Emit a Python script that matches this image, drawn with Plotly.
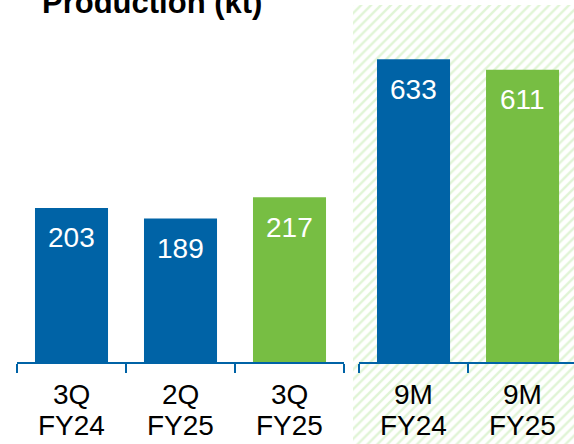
import plotly.graph_objects as go

# ---- data ----
left_categories = ["3Q<br>FY24", "2Q<br>FY25", "3Q<br>FY25"]
left_values = [203, 189, 217]
right_categories = ["9M<br>FY24", "9M<br>FY25"]
right_values = [633, 611]
title_text = "Production (kt)"

# ---- style ----
BLUE = "#0063a6"
GREEN = "#77be43"
HATCH = "#c2eaad"
left_colors = [BLUE, BLUE, GREEN]
right_colors = [BLUE, GREEN]
W, H = 574, 444
FONT = "Liberation Sans, Arial, sans-serif"
LABEL_ROWS_PX = [394, 425]   # vertical centres of the two category-label lines

fig = go.Figure()

# hatched highlight panel behind the 9M comparison (decoration)
hx0 = 353 / W
hy1 = 1 - 5 / H
fig.add_trace(go.Scatter(
    x=[hx0, 1, 1, hx0, hx0], y=[0, 0, hy1, hy1, 0],
    mode="none", fill="toself", fillcolor="white",
    fillpattern=dict(shape="/", fgcolor=HATCH, bgcolor="white", size=7, solidity=0.35),
    xaxis="x", yaxis="y", hoverinfo="skip", showlegend=False,
))

fig.add_trace(go.Bar(
    x=left_categories, y=left_values, marker=dict(color=left_colors, line=dict(width=0)),
    width=0.67, xaxis="x2", yaxis="y2", showlegend=False,
))
fig.add_trace(go.Bar(
    x=right_categories, y=right_values, marker=dict(color=right_colors, line=dict(width=0)),
    width=0.67, xaxis="x3", yaxis="y3", showlegend=False,
))

annotations = []
for cats, vals, ax in [(left_categories, left_values, "2"), (right_categories, right_values, "3")]:
    for c, v in zip(cats, vals):
        # value label inside the bar
        annotations.append(dict(
            x=c, y=v, xref="x" + ax, yref="y" + ax, text=str(v), showarrow=False,
            yanchor="middle", xanchor="center", yshift=-30,
            font=dict(family=FONT, size=28, color="white"),
        ))
        # category label, one line per row (tighter line spacing than tick labels)
        for line, ypx in zip(c.split("<br>"), LABEL_ROWS_PX):
            annotations.append(dict(
                x=c, y=1 - ypx / H, xref="x" + ax, yref="paper", text=line,
                showarrow=False, yanchor="middle", xanchor="center",
                font=dict(family=FONT, size=28, color="black"),
            ))
annotations.append(dict(
    x=40 / W, y=1, xref="paper", yref="paper", text="<b>" + title_text + "</b>",
    showarrow=False, xanchor="left", yanchor="middle", yshift=-2,
    font=dict(family=FONT, size=31, color="black"),
))

axis_common = dict(
    type="category", showline=True, linecolor=BLUE, linewidth=2,
    ticks="outside", tickson="boundaries", ticklen=9, tickwidth=2, tickcolor=BLUE,
    showgrid=False, zeroline=False, fixedrange=True, showticklabels=False,
)
ybot = 82 / H

fig.update_layout(
    width=W, height=H, margin=dict(l=0, r=0, t=0, b=0),
    paper_bgcolor="white", plot_bgcolor="rgba(0,0,0,0)",
    xaxis=dict(domain=[0, 1], range=[0, 1], visible=False, fixedrange=True),
    yaxis=dict(domain=[0, 1], range=[0, 1], visible=False, fixedrange=True),
    xaxis2=dict(domain=[17 / W, 344 / W], anchor="y2", range=[-0.5, 2.5], **axis_common),
    yaxis2=dict(domain=[ybot, 1], anchor="x2", range=[0, 477], visible=False, fixedrange=True),
    xaxis3=dict(domain=[359 / W, 1], anchor="y3", range=[-0.5, 1.472], **axis_common),
    yaxis3=dict(domain=[ybot, 1], anchor="x3", range=[0, 757], visible=False, fixedrange=True),
    annotations=annotations,
    font=dict(family=FONT),
)

fig.write_html(
    "out.html",
    config={"displayModeBar": False},
    post_script="document.body.style.margin='0';document.body.style.overflow='hidden';",
)
